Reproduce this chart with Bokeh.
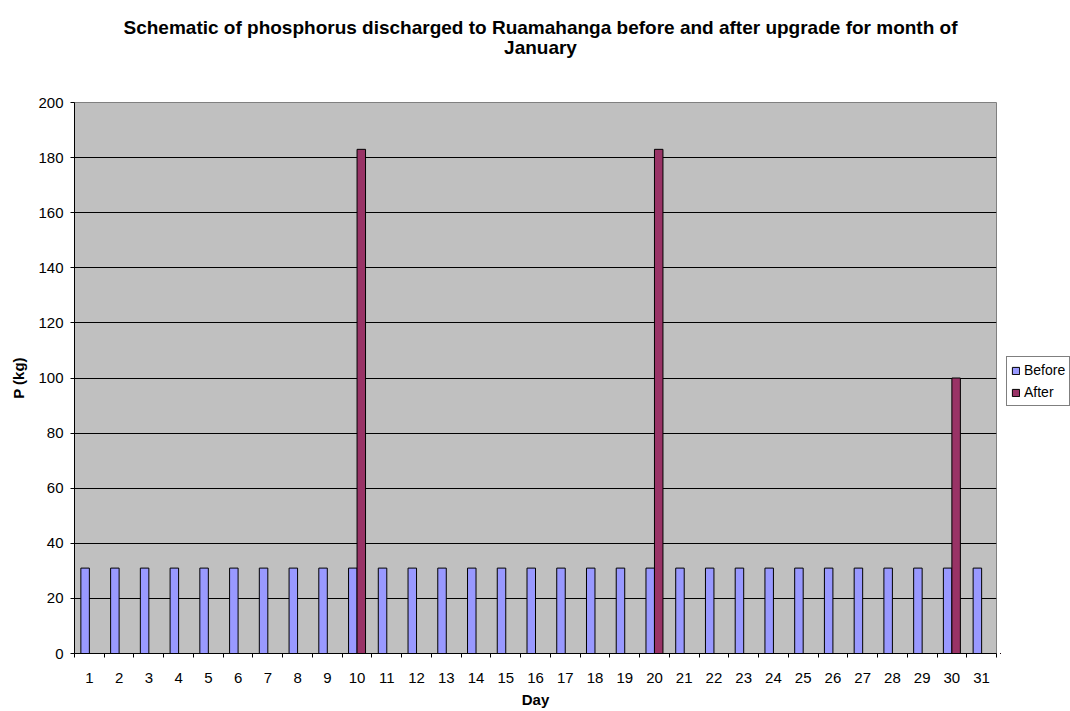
from bokeh.plotting import figure
from bokeh.layouts import column, row
from bokeh.models import FixedTicker, Legend, LegendItem, ColumnDataSource, Range1d
from bokeh.core.properties import value
from bokeh.embed import file_html
from bokeh.resources import INLINE

# ---- data ----
days = [1, 2, 3, 4, 5, 6, 7, 8, 9, 10, 11, 12, 13, 14, 15, 16, 17, 18, 19, 20,
        21, 22, 23, 24, 25, 26, 27, 28, 29, 30, 31]
before = [31, 31, 31, 31, 31, 31, 31, 31, 31, 31, 31, 31, 31, 31, 31, 31,
          31, 31, 31, 31, 31, 31, 31, 31, 31, 31, 31, 31, 31, 31, 31]
after = [0, 0, 0, 0, 0, 0, 0, 0, 0, 183, 0, 0, 0, 0, 0, 0, 0, 0, 0, 183,
         0, 0, 0, 0, 0, 0, 0, 0, 0, 100, 0]
y_ticks = [0, 20, 40, 60, 80, 100, 120, 140, 160, 180, 200]
day_labels = [str(d) for d in days]
series_names = ["Before", "After"]
title_lines = ["Schematic of phosphorus discharged to Ruamahanga before and after upgrade for month of",
               "January"]

FONT = "Liberation Sans"
BEFORE_COLOR = "#9999FF"
AFTER_COLOR = "#993366"
bar_w = 1 / 3.5

# ---------------- title strip ----------------
TITLE_H = 60
tfig = figure(width=1070, height=TITLE_H, x_range=Range1d(0, 1070), y_range=Range1d(TITLE_H, 0),
              output_backend="svg", toolbar_location=None,
              x_axis_location=None, y_axis_location=None,
              min_border=0, min_border_left=0, min_border_right=0, min_border_top=0, min_border_bottom=0,
              outline_line_color=None, background_fill_color="white", border_fill_color="white")
tfig.grid.visible = False
tfig.text(x=[540, 540], y=[27, 47], text=title_lines,
          text_font=value(FONT), text_font_size="19px", text_font_style="bold",
          text_color="black", text_align="center", text_baseline="alphabetic")

# ---------------- main chart ----------------
p = figure(width=1000, height=711 - TITLE_H, x_range=(0.5, 31.5), y_range=(0, 200),
           output_backend="svg", toolbar_location=None,
           min_border_left=74, min_border_right=4, min_border_top=102 - TITLE_H, min_border_bottom=58,
           background_fill_color="#C0C0C0", border_fill_color="white",
           outline_line_color="#808080", outline_line_width=1)

src_b = ColumnDataSource(dict(x=[d - bar_w / 2 for d in days], top=before))
a_days = [d for d, v in zip(days, after) if v > 0]
a_vals = [v for v in after if v > 0]
src_a = ColumnDataSource(dict(x=[d + bar_w / 2 for d in a_days], top=a_vals))

p.vbar(x="x", top="top", width=bar_w, source=src_b,
       fill_color=BEFORE_COLOR, line_color="black", line_width=1)
p.vbar(x="x", top="top", width=bar_w, source=src_a,
       fill_color=AFTER_COLOR, line_color="black", line_width=1)

# y axis
p.yaxis.ticker = FixedTicker(ticks=y_ticks)
p.yaxis.minor_tick_line_color = None
p.yaxis.major_tick_in = 0
p.yaxis.major_tick_out = 4
p.yaxis.major_label_text_font = FONT
p.yaxis.major_label_text_font_size = "15px"
p.yaxis.major_label_text_color = "black"
p.yaxis.major_label_standoff = 7
p.yaxis.axis_label = "P (kg)"
p.yaxis.axis_label_text_font = FONT
p.yaxis.axis_label_text_font_size = "15px"
p.yaxis.axis_label_text_font_style = "bold"
p.yaxis.axis_label_text_color = "black"
p.yaxis.axis_label_standoff = 8
p.yaxis.axis_line_color = "black"

# x axis
p.xaxis.ticker = FixedTicker(ticks=days, minor_ticks=[d - 0.5 for d in days] + [31.5])
p.xaxis.major_label_overrides = {d: s for d, s in zip(days, day_labels)}
p.xaxis.major_tick_line_color = None
p.xaxis.major_tick_in = 0
p.xaxis.major_tick_out = 0
p.xaxis.minor_tick_line_color = "black"
p.xaxis.minor_tick_in = 0
p.xaxis.minor_tick_out = 4
p.xaxis.major_label_text_font = FONT
p.xaxis.major_label_text_font_size = "15px"
p.xaxis.major_label_text_color = "black"
p.xaxis.major_label_standoff = 15
p.xaxis.axis_label = "Day"
p.xaxis.axis_label_text_font = FONT
p.xaxis.axis_label_text_font_size = "15px"
p.xaxis.axis_label_text_font_style = "bold"
p.xaxis.axis_label_text_color = "black"
p.xaxis.axis_label_standoff = 5
p.xaxis.axis_line_color = "black"

# grid
p.xgrid.visible = False
p.ygrid.ticker = FixedTicker(ticks=y_ticks[1:-1])
p.ygrid.grid_line_color = "black"
p.ygrid.grid_line_width = 1

# ---------------- legend strip ----------------
# the legend swatches come from bar renderers whose marks fall outside this strip's range
lfig = figure(width=70, height=711 - TITLE_H, x_range=Range1d(1000, 1001), y_range=Range1d(1000, 1001),
              output_backend="svg", toolbar_location=None,
              x_axis_location=None, y_axis_location=None,
              min_border=0, min_border_left=0, min_border_right=0, min_border_top=0, min_border_bottom=0,
              outline_line_color=None, background_fill_color="white", border_fill_color="white")
lfig.grid.visible = False
lb = lfig.vbar(x=days, top=before, width=bar_w, fill_color=BEFORE_COLOR, line_color="black", line_width=1)
la = lfig.vbar(x=days, top=after, width=bar_w, fill_color=AFTER_COLOR, line_color="black", line_width=1)
legend = Legend(items=[LegendItem(label=series_names[0], renderers=[lb]),
                       LegendItem(label=series_names[1], renderers=[la])],
                location=(6, 247), orientation="vertical",
                border_line_color="black", border_line_width=1,
                background_fill_color="white", background_fill_alpha=1.0,
                label_text_font=FONT, label_text_font_size="14px", label_text_color="black",
                glyph_width=9, glyph_height=9, label_height=18, label_standoff=4,
                spacing=4, padding=4, margin=0)
lfig.add_layout(legend)

layout = column(tfig, row(p, lfig, spacing=0), spacing=0)
open("out.html", "w").write(file_html(layout, INLINE))
